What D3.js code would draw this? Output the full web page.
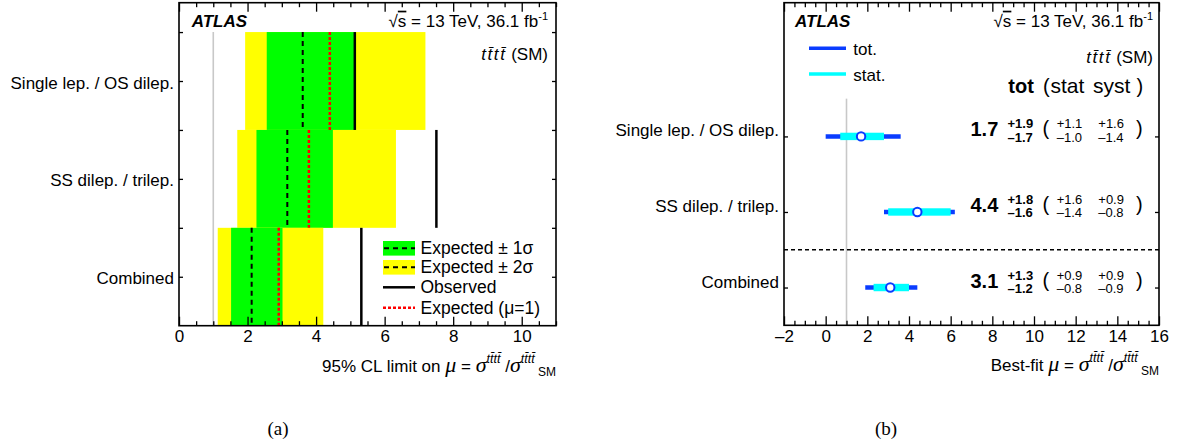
<!DOCTYPE html>
<html><head><meta charset="utf-8">
<script src="https://cdn.jsdelivr.net/npm/d3@7"></script>
<style>
body{margin:0;background:#fff}
svg text{font-family:"Liberation Sans",Arial,Helvetica,sans-serif;fill:#000}
</style>
</head><body>
<svg id="c" width="1178" height="446"></svg>
<script>
// ---------- data ----------
const categories = ["Single lep. / OS dilep.", "SS dilep. / trilep.", "Combined"];
// (a) 95% CL limits on mu
const limExpected    = [3.61, 3.16, 2.12];
const limExpectedMu1 = [4.40, 3.79, 2.91];
const limObserved    = [5.13, 7.51, 5.32];
const band1Lo = [2.56, 2.26, 1.52];
const band1Hi = [5.13, 4.49, 3.02];
const band2Lo = [1.93, 1.70, 1.13];
const band2Hi = [7.19, 6.33, 4.21];
const limTicks = [0, 2, 4, 6, 8, 10];
// (b) best-fit mu
const bestFit = [1.7, 4.4, 3.1];
const totUp  = [1.9, 1.8, 1.3];
const totDn  = [1.7, 1.6, 1.2];
const statUp = [1.1, 1.6, 0.9];
const statDn = [1.0, 1.4, 0.8];
const systUp = [1.6, 0.9, 0.9];
const systDn = [1.4, 0.8, 0.9];
const fitTicks = [-2, 0, 2, 4, 6, 8, 10, 12, 14, 16];

// ---------- helpers ----------
const svg = d3.select("#c");
const SERIF = '"Liberation Serif","Times New Roman",serif';
const n = categories.length;
const fmtNum = v => v.toFixed(1);
const fmtNeg = v => (v < 0 ? "\u2013" + Math.abs(v) : String(v));

function frameAxes(g, x, y, top, bottom, majors, minors, yTicks) {
  const left = x.range()[0], right = x.range()[1];
  g.append("g").attr("transform", `translate(0,${bottom})`)
    .call(d3.axisBottom(x).tickValues(majors).tickSize(-9).tickPadding(4.5).tickFormat(fmtNeg))
    .call(s => s.select(".domain").remove())
    .call(s => s.selectAll("line").attr("stroke-width", 1.3))
    .call(s => s.selectAll("text").attr("font-size", 17));
  g.append("g").attr("transform", `translate(0,${bottom})`)
    .call(d3.axisBottom(x).tickValues(minors).tickSize(-4.5).tickFormat(""))
    .call(s => s.select(".domain").remove())
    .call(s => s.selectAll("line").attr("stroke-width", 1.3));
  g.append("g").attr("transform", `translate(0,${top})`)
    .call(d3.axisTop(x).tickValues(majors).tickSize(-9).tickFormat(""))
    .call(s => s.select(".domain").remove())
    .call(s => s.selectAll("line").attr("stroke-width", 1.3));
  g.append("g").attr("transform", `translate(0,${top})`)
    .call(d3.axisTop(x).tickValues(minors).tickSize(-4.5).tickFormat(""))
    .call(s => s.select(".domain").remove())
    .call(s => s.selectAll("line").attr("stroke-width", 1.3));
  g.append("g").attr("transform", `translate(${left},0)`)
    .call(d3.axisLeft(y).tickValues(yTicks).tickSize(-4).tickFormat(""))
    .call(s => s.select(".domain").remove())
    .call(s => s.selectAll("line").attr("stroke-width", 1.3));
  g.append("g").attr("transform", `translate(${right},0)`)
    .call(d3.axisRight(y).tickValues(yTicks).tickSize(-4).tickFormat(""))
    .call(s => s.select(".domain").remove())
    .call(s => s.selectAll("line").attr("stroke-width", 1.3));
  g.append("rect").attr("x", left).attr("y", top)
    .attr("width", right - left).attr("height", bottom - top)
    .attr("fill", "none").attr("stroke", "#000").attr("stroke-width", 1.6);
}

function headerTexts(g, xAtlas, xRightEdge, yBase, yProc) {
  g.append("text").attr("x", xAtlas).attr("y", yBase)
    .attr("font-size", 17).attr("font-weight", "bold").attr("font-style", "italic").text("ATLAS");
  const t = g.append("text").attr("x", xRightEdge).attr("y", yBase)
    .attr("font-size", 17).attr("text-anchor", "end");
  t.append("tspan").text("\u221A");
  t.append("tspan").attr("text-decoration", "overline").text("s");
  t.append("tspan").text(" = 13 TeV, 36.1 fb");
  t.append("tspan").attr("font-size", 11).attr("dy", -7).text("-1");
  const p = g.append("text").attr("x", xRightEdge).attr("y", yProc)
    .attr("font-size", 17).attr("text-anchor", "end");
  p.append("tspan").attr("font-style", "italic").style("letter-spacing", "1.6px").text("tt\u0304tt\u0304");
  p.append("tspan").text(" (SM)");
}

function greek(t, ch) {
  t.append("tspan").style("font-family", SERIF).style("font-style", "italic")
    .attr("font-size", 22).text(ch);
}

function xTitle(g, xEnd, yBase, prefix) {
  const t = g.append("text").attr("x", xEnd).attr("y", yBase)
    .attr("font-size", 17).attr("text-anchor", "end");
  t.append("tspan").text(prefix);
  greek(t, "\u03BC");
  t.append("tspan").text(" = ");
  greek(t, "\u03C3");
  t.append("tspan").attr("font-style", "italic").attr("font-size", 12.5).attr("dy", -9).text("tt\u0304tt\u0304");
  t.append("tspan").attr("dy", 9).text(" /");
  greek(t, "\u03C3");
  t.append("tspan").attr("font-style", "italic").attr("font-size", 12.5).attr("dy", -9).text("tt\u0304tt\u0304");
  t.append("tspan").attr("font-size", 12).attr("dy", 13).text(" SM");
}

// =================== panel (a) ===================
const gA = svg.append("g");
const xL = d3.scaleLinear().domain([0, 11]).range([179, 556]);
const yL = d3.scaleLinear().domain([0, 3.3]).range([325.7, 2.7]);
const rowLo = i => n - 1 - i;

gA.append("line").attr("x1", xL(1)).attr("x2", xL(1))
  .attr("y1", yL(0)).attr("y2", yL(3)).attr("stroke", "#c8c8c8").attr("stroke-width", 1.6);

categories.forEach((c, i) => {
  const y0 = yL(rowLo(i) + 1), y1 = yL(rowLo(i));
  gA.append("rect").attr("x", xL(band2Lo[i])).attr("y", y0)
    .attr("width", xL(band2Hi[i]) - xL(band2Lo[i])).attr("height", y1 - y0).attr("fill", "#ffff00");
  gA.append("rect").attr("x", xL(band1Lo[i])).attr("y", y0)
    .attr("width", xL(band1Hi[i]) - xL(band1Lo[i])).attr("height", y1 - y0).attr("fill", "#00ff00");
});
categories.forEach((c, i) => {
  const y0 = yL(rowLo(i) + 1), y1 = yL(rowLo(i));
  gA.append("line").attr("x1", xL(limExpected[i])).attr("x2", xL(limExpected[i]))
    .attr("y1", y0).attr("y2", y1).attr("stroke", "#000").attr("stroke-width", 2).attr("stroke-dasharray", "5,4");
  gA.append("line").attr("x1", xL(limExpectedMu1[i])).attr("x2", xL(limExpectedMu1[i]))
    .attr("y1", y0).attr("y2", y1).attr("stroke", "#ff0000").attr("stroke-width", 2.5).attr("stroke-dasharray", "3,2");
  gA.append("line").attr("x1", xL(limObserved[i])).attr("x2", xL(limObserved[i]))
    .attr("y1", y0).attr("y2", y1).attr("stroke", "#000").attr("stroke-width", 2.5);
  gA.append("text").attr("x", 174).attr("y", yL(rowLo(i) + 0.5) + 7.5)
    .attr("font-size", 17).attr("text-anchor", "end").text(c);
});

const legA = [
  {label: "Expected \u00B1 1\u03C3", kind: "box", fill: "#00ff00", y: 248.3},
  {label: "Expected \u00B1 2\u03C3", kind: "box", fill: "#ffff00", y: 267.3},
  {label: "Observed", kind: "obs", y: 287.3},
  {label: "Expected (\u03BC=1)", kind: "mu1", y: 307.7}
];
legA.forEach(d => {
  if (d.kind === "box") {
    gA.append("rect").attr("x", 383).attr("y", d.y - 7.3).attr("width", 32).attr("height", 14.6).attr("fill", d.fill);
    gA.append("line").attr("x1", 384).attr("x2", 415).attr("y1", d.y).attr("y2", d.y)
      .attr("stroke", "#000").attr("stroke-width", 2).attr("stroke-dasharray", "5,4");
  } else if (d.kind === "obs") {
    gA.append("line").attr("x1", 383).attr("x2", 415).attr("y1", d.y).attr("y2", d.y)
      .attr("stroke", "#000").attr("stroke-width", 2.5);
  } else {
    gA.append("line").attr("x1", 383).attr("x2", 415).attr("y1", d.y).attr("y2", d.y)
      .attr("stroke", "#ff0000").attr("stroke-width", 2.5).attr("stroke-dasharray", "3,2");
  }
  gA.append("text").attr("x", 420.5).attr("y", d.y + 6).attr("font-size", 17.5).text(d.label);
});

frameAxes(gA, xL, yL, 2.7, 325.7, limTicks, d3.range(0, 11.01, 0.5).filter(v => v % 2 !== 0),
  d3.range(0.5, 3.01, 0.5));
headerTexts(gA, 191.7, 548, 26.7, 60);
xTitle(gA, 556, 371.7, "95% CL limit on ");
svg.append("text").attr("x", 278).attr("y", 435).attr("font-size", 19)
  .style("font-family", SERIF).attr("text-anchor", "middle").text("(a)");

// =================== panel (b) ===================
const gB = svg.append("g");
const xR = d3.scaleLinear().domain([-2, 16]).range([784, 1159]);
const yR = d3.scaleLinear().domain([0, 4.27]).range([325.3, 2.7]);
const rowY = i => yR(n - 1 - i + 0.5);
const BLUE = "#0a3cff";

gB.append("line").attr("x1", xR(1)).attr("x2", xR(1))
  .attr("y1", yR(0)).attr("y2", yR(3)).attr("stroke", "#c8c8c8").attr("stroke-width", 1.6);
gB.append("line").attr("x1", xR(-2)).attr("x2", xR(16))
  .attr("y1", yR(1)).attr("y2", yR(1)).attr("stroke", "#000").attr("stroke-width", 1.5).attr("stroke-dasharray", "4,3");

categories.forEach((c, i) => {
  const y = rowY(i);
  gB.append("line").attr("x1", xR(bestFit[i] - totDn[i])).attr("x2", xR(bestFit[i] + totUp[i]))
    .attr("y1", y).attr("y2", y).attr("stroke", BLUE).attr("stroke-width", 4.5);
  gB.append("rect").attr("x", xR(bestFit[i] - statDn[i])).attr("y", y - 3.7)
    .attr("width", xR(bestFit[i] + statUp[i]) - xR(bestFit[i] - statDn[i])).attr("height", 7.4)
    .attr("fill", "#00ffff");
  gB.append("circle").attr("cx", xR(bestFit[i])).attr("cy", y).attr("r", 4.2)
    .attr("fill", "#fff").attr("stroke", BLUE).attr("stroke-width", 2);
  gB.append("text").attr("x", 779).attr("y", y).attr("font-size", 17).attr("text-anchor", "end").text(c);
  gB.append("text").attr("x", 970.5).attr("y", y).attr("font-size", 20).attr("font-weight", "bold").text(fmtNum(bestFit[i]));
  gB.append("text").attr("x", 1007.5).attr("y", y - 8).attr("font-size", 13).attr("font-weight", "bold").text("+" + fmtNum(totUp[i]));
  gB.append("text").attr("x", 1007.5).attr("y", y + 5.5).attr("font-size", 13).attr("font-weight", "bold").text("\u2013" + fmtNum(totDn[i]));
  gB.append("text").attr("x", 1042.5).attr("y", y - 1).attr("font-size", 20).text("(");
  gB.append("text").attr("x", 1056.7).attr("y", y - 8).attr("font-size", 13).text("+" + fmtNum(statUp[i]));
  gB.append("text").attr("x", 1056.7).attr("y", y + 5.5).attr("font-size", 13).text("\u2013" + fmtNum(statDn[i]));
  gB.append("text").attr("x", 1098.3).attr("y", y - 8).attr("font-size", 13).text("+" + fmtNum(systUp[i]));
  gB.append("text").attr("x", 1098.3).attr("y", y + 5.5).attr("font-size", 13).text("\u2013" + fmtNum(systDn[i]));
  gB.append("text").attr("x", 1136).attr("y", y - 1).attr("font-size", 20).text(")");
});

gB.append("text").attr("x", 1008.3).attr("y", 92.7).attr("font-size", 20).attr("font-weight", "bold").text("tot");
gB.append("text").attr("x", 1043).attr("y", 92.7).attr("font-size", 20).text("(");
gB.append("text").attr("x", 1050.5).attr("y", 92.7).attr("font-size", 21).text("stat");
gB.append("text").attr("x", 1093).attr("y", 92.7).attr("font-size", 21).text("syst");
gB.append("text").attr("x", 1136.5).attr("y", 92.7).attr("font-size", 20).text(")");

[{label: "tot.", color: BLUE, y: 48.3}, {label: "stat.", color: "#00ffff", y: 74}].forEach(d => {
  gB.append("line").attr("x1", 809).attr("x2", 846).attr("y1", d.y).attr("y2", d.y)
    .attr("stroke", d.color).attr("stroke-width", 3.5);
  gB.append("text").attr("x", 853.3).attr("y", d.y + 6.5).attr("font-size", 17).text(d.label);
});

frameAxes(gB, xR, yR, 2.7, 325.3, fitTicks, d3.range(-2, 16.01, 0.5).filter(v => v % 2 !== 0),
  categories.map((c, i) => n - 1 - i + 0.5));
headerTexts(gB, 795, 1153, 26.7, 63);
xTitle(gB, 1159, 371, "Best-fit ");
svg.append("text").attr("x", 886).attr("y", 435).attr("font-size", 19)
  .style("font-family", SERIF).attr("text-anchor", "middle").text("(b)");
</script>
</body></html>
